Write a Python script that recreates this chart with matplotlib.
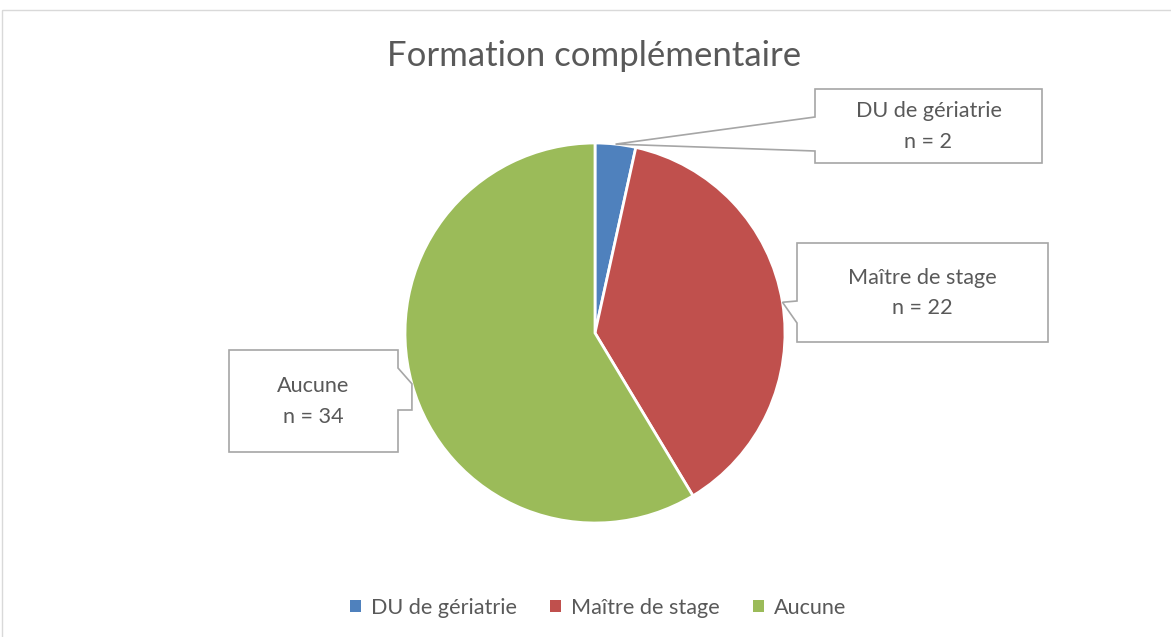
""" plot.py
Pie chart: formation complementaire, with Excel-style callouts. """

import numpy as np
import matplotlib
matplotlib.use('Agg')
import matplotlib.pyplot as plt
from matplotlib.patches import Polygon, Rectangle

plt.rcParams['font.family'] = ['Lato', 'DejaVu Sans']

# Data
categories = ['DU de gériatrie', 'Maître de stage', 'Aucune']
counts = [2, 22, 34]
colors = ['#4F81BD', '#C0504D', '#9BBB59']
title = 'Formation complémentaire'

W, H = 1171, 637
TXT = '#595959'

fig = plt.figure(figsize=(W / 100, H / 100), dpi=100)

# pie placed in pixel space: centre (595, 333), radius 190
cx, cy, r = 595, 333, 190
ax = fig.add_axes([(cx - r) / W, (H - cy - r) / H, 2 * r / W, 2 * r / H])
wedges, _ = ax.pie(counts, colors=colors, startangle=90, counterclock=False,
                   wedgeprops=dict(edgecolor='white', linewidth=2))
ax.set_xlim(-1, 1)
ax.set_ylim(-1, 1)
ax.set_aspect('auto')

# overlay in pixel coordinates
ov = fig.add_axes([0, 0, 1, 1])
ov.set_xlim(0, W)
ov.set_ylim(H, 0)
ov.axis('off')
ov.patch.set_alpha(0)

ov.add_patch(Rectangle((2, 10), W + 10, H + 10, fill=False,
                       edgecolor='#d9d9d9', lw=1))

ov.text(594, 56, title, ha='center', va='center', fontsize=25, color=TXT)

# callout tips at slice mid-angles on the outer edge
total = sum(counts)
cum = np.cumsum([0] + counts)
mids = (cum[:-1] + np.array(counts) / 2) / total * 2 * np.pi
tips = [(cx + r * np.sin(a), cy - r * np.cos(a)) for a in mids]

# box (left, top, right, bottom) and pointer attachment
boxes = [(815, 89, 1042, 163), (797, 243, 1048, 342), (229, 350, 398, 452)]

def callout(box, tip, side, y0, y1):
    l, t, rr, b = box
    if side == 'left':
        pts = [(l, t), (rr, t), (rr, b), (l, b), (l, y1), tip, (l, y0)]
    else:
        pts = [(l, t), (rr, t), (rr, y0), tip, (tip[0], y1), (rr, y1), (rr, b), (l, b)]
    ov.add_patch(Polygon(pts, closed=True, facecolor='white',
                         edgecolor='#a6a6a6', lw=1.2, zorder=3))

callout(boxes[0], tips[0], 'left', 117, 151)
callout(boxes[1], tips[1], 'left', 301, 323)
callout(boxes[2], tips[2], 'right', 368, 410)

for (l, t, rr, b), cat, n in zip(boxes, categories, counts):
    xm, ym = (l + rr) / 2, (t + b) / 2
    ov.text(xm, ym - 15, cat, ha='center', va='center', fontsize=15.6,
            color=TXT, zorder=4)
    ov.text(xm, ym + 16, f'n = {n}', ha='center', va='center', fontsize=15.6,
            color=TXT, zorder=4)

leg = fig.legend(wedges, categories, loc='center', ncol=3, frameon=False,
                 bbox_to_anchor=(598 / W, 1 - 608 / H), fontsize=15.6,
                 handlelength=0.5, handleheight=0.5, handletextpad=0.45,
                 columnspacing=1.55)
for t in leg.get_texts():
    t.set_color(TXT)
for h in leg.legend_handles:
    h.set_edgecolor('none')

fig.savefig('out.png', dpi=100)
